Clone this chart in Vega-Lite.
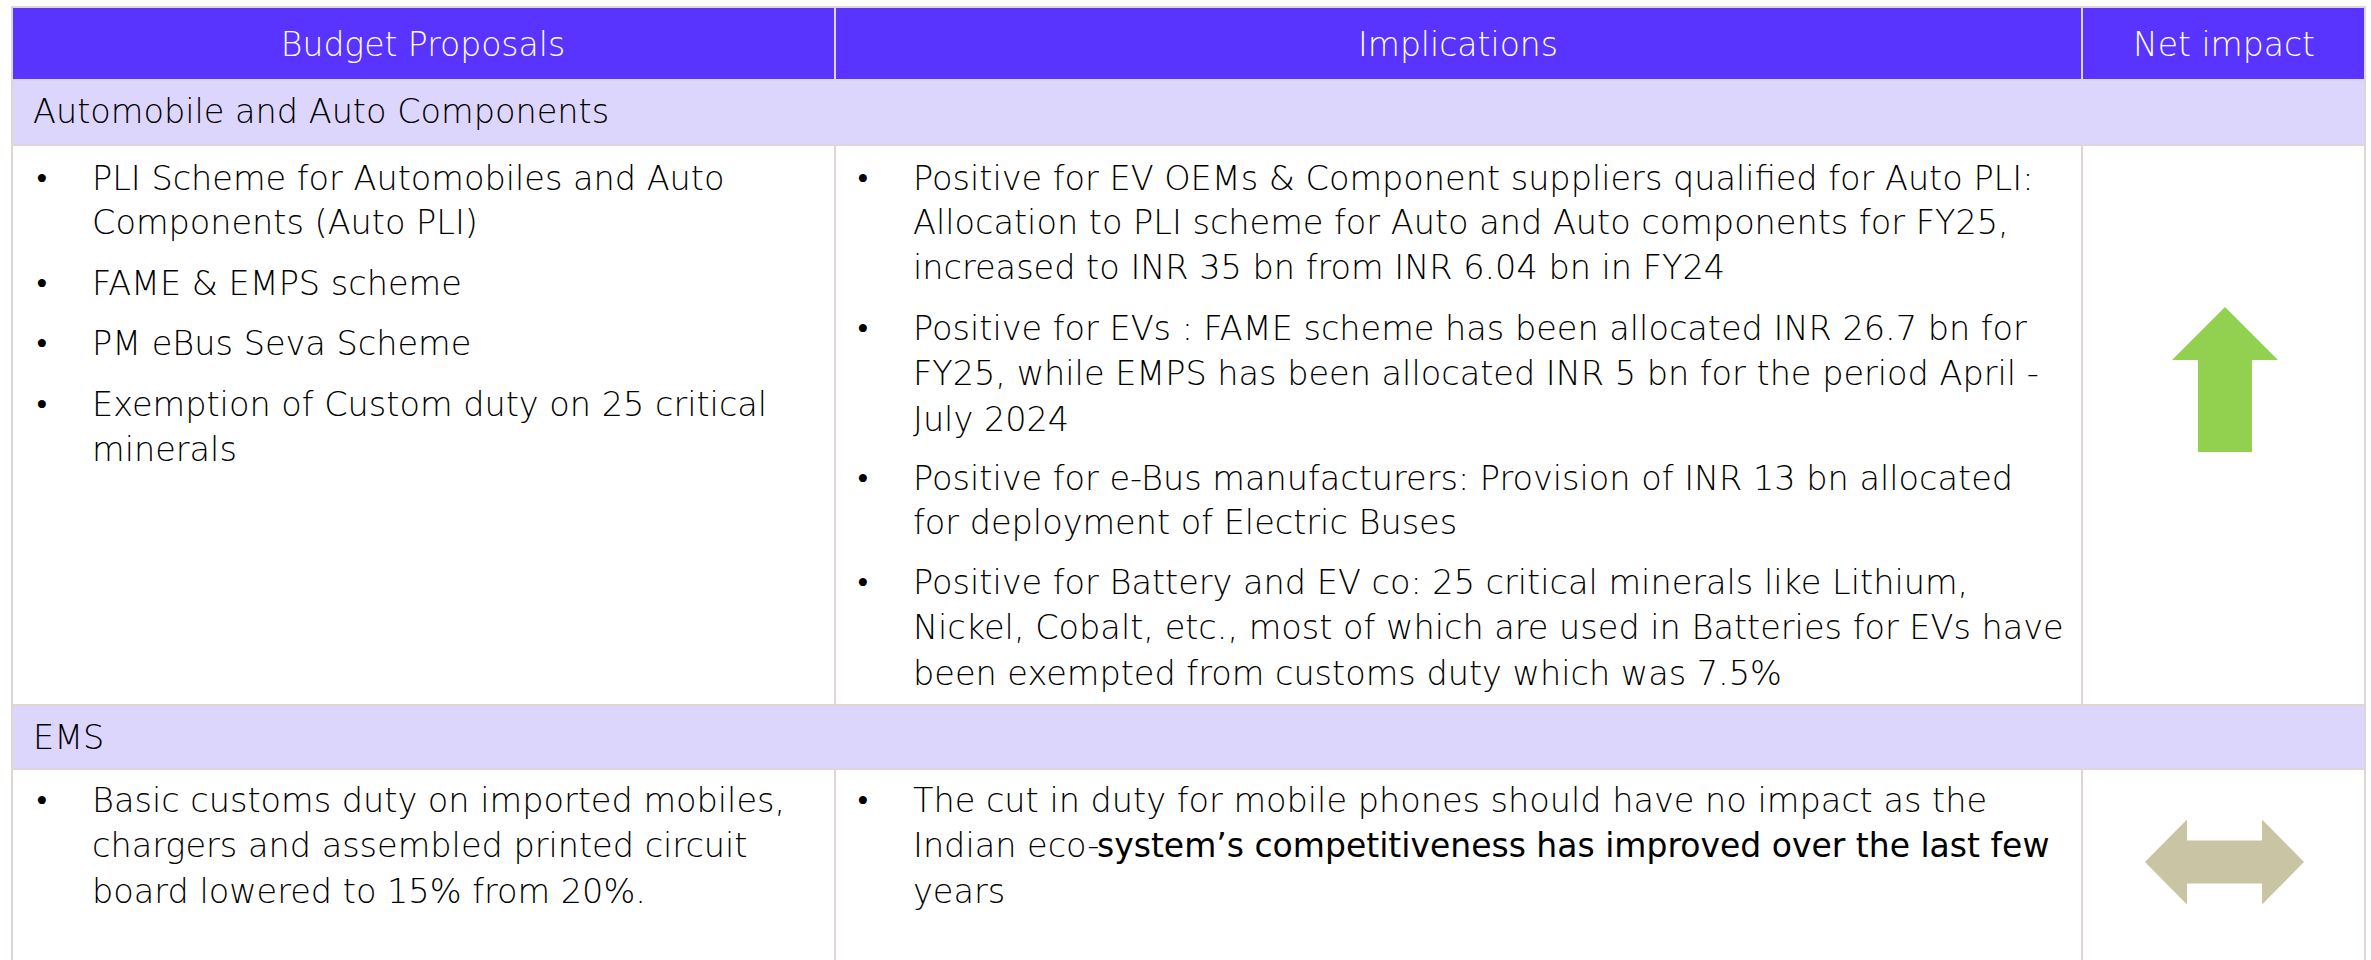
{
  "$schema": "https://vega.github.io/schema/vega-lite/v6.json",
  "width": 2371,
  "height": 960,
  "autosize": {"type": "fit", "contains": "padding"},
  "padding": 0,
  "background": "white",
  "config": {"view": {"stroke": null}},
  "datasets": {
    "cells": [
      {"kind": "header", "x1": 12, "x2": 835, "y1": 7, "y2": 80},
      {"kind": "header", "x1": 835, "x2": 2082, "y1": 7, "y2": 80},
      {"kind": "header", "x1": 2082, "x2": 2365, "y1": 7, "y2": 80},
      {"kind": "cat", "x1": 12, "x2": 2365, "y1": 80, "y2": 145},
      {"kind": "body", "x1": 12, "x2": 835, "y1": 145, "y2": 705},
      {"kind": "body", "x1": 835, "x2": 2082, "y1": 145, "y2": 705},
      {"kind": "body", "x1": 2082, "x2": 2365, "y1": 145, "y2": 705},
      {"kind": "cat", "x1": 12, "x2": 2365, "y1": 705, "y2": 769},
      {"kind": "body", "x1": 12, "x2": 835, "y1": 769, "y2": 975},
      {"kind": "body", "x1": 835, "x2": 2082, "y1": 769, "y2": 975},
      {"kind": "body", "x1": 2082, "x2": 2365, "y1": 769, "y2": 975}
    ],
    "headers": [
      {"x": 423, "y": 46, "text": "Budget Proposals"},
      {"x": 1458, "y": 46, "text": "Implications"},
      {"x": 2224, "y": 46, "text": "Net impact"}
    ],
    "lines": [
      {"x": 33, "y": 113, "text": "Automobile and Auto Components"},
      {"x": 33, "y": 739, "text": "EMS"},
      {"x": 36, "y": 180, "text": "•"},
      {"x": 92, "y": 180, "text": "PLI Scheme for Automobiles and Auto"},
      {"x": 92, "y": 224, "text": "Components (Auto PLI)"},
      {"x": 36, "y": 285, "text": "•"},
      {"x": 92, "y": 285, "text": "FAME & EMPS scheme"},
      {"x": 36, "y": 345, "text": "•"},
      {"x": 92, "y": 345, "text": "PM eBus Seva Scheme"},
      {"x": 36, "y": 406, "text": "•"},
      {"x": 92, "y": 406, "text": "Exemption of Custom duty on 25 critical"},
      {"x": 92, "y": 451, "text": "minerals"},
      {"x": 857, "y": 180, "text": "•"},
      {"x": 913, "y": 180, "text": "Positive for EV OEMs & Component suppliers qualified for Auto PLI:"},
      {"x": 913, "y": 224, "text": "Allocation to PLI scheme for Auto and Auto components for FY25,"},
      {"x": 913, "y": 269, "text": "increased to INR 35 bn from INR 6.04 bn in FY24"},
      {"x": 857, "y": 330, "text": "•"},
      {"x": 913, "y": 330, "text": "Positive for EVs : FAME scheme has been allocated INR 26.7 bn for"},
      {"x": 913, "y": 375, "text": "FY25, while EMPS has been allocated INR 5 bn for the period April -"},
      {"x": 913, "y": 421, "text": "July 2024"},
      {"x": 857, "y": 480, "text": "•"},
      {"x": 913, "y": 480, "text": "Positive for e-Bus manufacturers: Provision of INR 13 bn allocated"},
      {"x": 913, "y": 524, "text": "for deployment of Electric Buses"},
      {"x": 857, "y": 584, "text": "•"},
      {"x": 913, "y": 584, "text": "Positive for Battery and EV co: 25 critical minerals like Lithium,"},
      {"x": 913, "y": 629, "text": "Nickel, Cobalt, etc., most of which are used in Batteries for EVs have"},
      {"x": 913, "y": 675, "text": "been exempted from customs duty which was 7.5%"},
      {"x": 36, "y": 802, "text": "•"},
      {"x": 92, "y": 802, "text": "Basic customs duty on imported mobiles,"},
      {"x": 92, "y": 847, "text": "chargers and assembled printed circuit"},
      {"x": 92, "y": 893, "text": "board lowered to 15% from 20%."},
      {"x": 857, "y": 802, "text": "•"},
      {"x": 913, "y": 802, "text": "The cut in duty for mobile phones should have no impact as the"},
      {"x": 913, "y": 847, "text": "Indian eco-"},
      {"x": 913, "y": 893, "text": "years"}
    ],
    "boldlines": [
      {"x": 1097, "y": 847, "text": "system’s competitiveness has improved over the last few"}
    ],
    "arrows": [
      {"impact": "up", "x": 2225, "y": 379.5},
      {"impact": "neutral", "x": 2224.5, "y": 862}
    ]
  },
  "layer": [
    {
      "data": {"name": "cells"},
      "mark": {"type": "rect", "stroke": "#DDD6D3", "strokeWidth": 2, "clip": true},
      "encoding": {
        "x": {"field": "x1", "type": "quantitative", "scale": {"domain": [0, 2371], "nice": false, "zero": false}, "axis": null},
        "x2": {"field": "x2"},
        "y": {"field": "y1", "type": "quantitative", "scale": {"domain": [0, 960], "nice": false, "zero": false, "reverse": true}, "axis": null},
        "y2": {"field": "y2"},
        "fill": {"field": "kind", "type": "nominal", "legend": null,
          "scale": {"domain": ["header", "cat", "body"], "range": ["#5933FF", "#DCD6FC", "#FFFFFF"]}}
      }
    },
    {
      "data": {"name": "headers"},
      "mark": {"type": "text", "align": "center", "baseline": "middle", "font": "DejaVu Sans", "fontWeight": 200, "fontSize": 33, "color": "#FFFFFF"},
      "encoding": {
        "x": {"field": "x", "type": "quantitative"},
        "y": {"field": "y", "type": "quantitative"},
        "text": {"field": "text"}
      }
    },
    {
      "data": {"name": "lines"},
      "mark": {"type": "text", "align": "left", "baseline": "middle", "font": "DejaVu Sans", "fontWeight": 200, "fontSize": 33.5, "color": "#000000"},
      "encoding": {
        "x": {"field": "x", "type": "quantitative"},
        "y": {"field": "y", "type": "quantitative"},
        "text": {"field": "text"}
      }
    },
    {
      "data": {"name": "boldlines"},
      "mark": {"type": "text", "align": "left", "baseline": "middle", "font": "DejaVu Sans", "fontWeight": "normal", "fontSize": 33, "color": "#000000"},
      "encoding": {
        "x": {"field": "x", "type": "quantitative"},
        "y": {"field": "y", "type": "quantitative"},
        "text": {"field": "text"}
      }
    },
    {
      "data": {"name": "arrows"},
      "transform": [{"filter": "datum.impact === 'up'"}],
      "mark": {"type": "point", "filled": true, "opacity": 1, "color": "#92D050", "size": 21025,
        "shape": "M0,-1L0.731,-0.269L0.372,-0.269L0.372,1L-0.372,1L-0.372,-0.269L-0.731,-0.269Z"},
      "encoding": {
        "x": {"field": "x", "type": "quantitative"},
        "y": {"field": "y", "type": "quantitative"}
      }
    },
    {
      "data": {"name": "arrows"},
      "transform": [{"filter": "datum.impact === 'neutral'"}],
      "mark": {"type": "point", "filled": true, "opacity": 1, "color": "#C9C4A3", "size": 25281,
        "shape": "M-1,0L-0.472,-0.535L-0.472,-0.27L0.472,-0.27L0.472,-0.535L1,0L0.472,0.535L0.472,0.27L-0.472,0.27L-0.472,0.535Z"},
      "encoding": {
        "x": {"field": "x", "type": "quantitative"},
        "y": {"field": "y", "type": "quantitative"}
      }
    }
  ]
}
